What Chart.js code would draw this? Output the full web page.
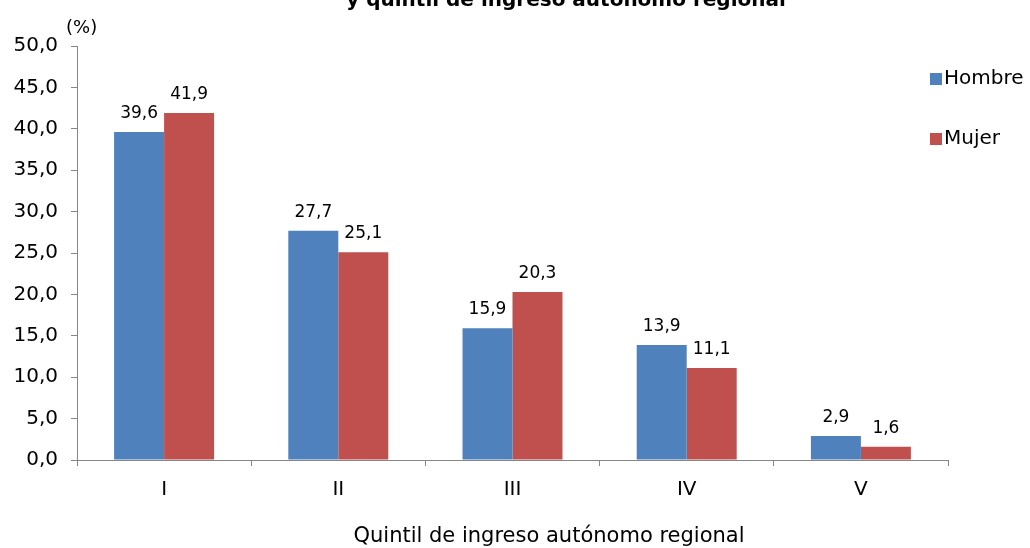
<!DOCTYPE html>
<html><head><meta charset="utf-8">
<script src="https://cdn.jsdelivr.net/npm/chart.js@4"></script>
<style>html,body{margin:0;padding:0;background:#fff}#w{width:1030px;height:548px}</style>
</head><body><div id="w"><canvas id="c" width="1030" height="548"></canvas></div>
<script>
const categories = ["I","II","III","IV","V"];
const hombre = [39.6, 27.7, 15.9, 13.9, 2.9];
const mujer = [41.9, 25.1, 20.3, 11.1, 1.6];
const seriesNames = ["Hombre","Mujer"];
const yTicks = [0,5,10,15,20,25,30,35,40,45,50];
const titleText = "y quintil de ingreso autónomo regional";
const xTitle = "Quintil de ingreso autónomo regional";
const unitText = "(%)";
const FONT = "'DejaVu Sans', Verdana, sans-serif";
const fmt = v => v.toFixed(1).replace('.', ',');

const extras = {
  id: 'extras',
  afterDatasetsDraw(chart) {
    const ctx = chart.ctx;
    ctx.save();
    ctx.fillStyle = '#000';
    ctx.font = '17px ' + FONT;
    ctx.textAlign = 'center';
    ctx.textBaseline = 'alphabetic';
    chart.data.datasets.forEach((ds, i) => {
      chart.getDatasetMeta(i).data.forEach((el, j) => {
        ctx.fillText(fmt(ds.data[j]), el.x, el.y - 14);
      });
    });
    // title (clipped at top)
    ctx.font = 'bold 20px ' + FONT;
    ctx.fillText(titleText, 566, 6);
    // x axis title
    ctx.font = '21px ' + FONT;
    ctx.textBaseline = 'middle';
    ctx.fillText(xTitle, 549, 537);
    // unit
    ctx.font = '18px ' + FONT;
    ctx.textAlign = 'left';
    ctx.textBaseline = 'alphabetic';
    ctx.fillText(unitText, 66, 33);
    // legend
    ctx.font = '20px ' + FONT;
    ctx.textBaseline = 'middle';
    const leg = [[seriesNames[0], '#4F81BD', 79], [seriesNames[1], '#C0504D', 139]];
    leg.forEach(([t, c, y]) => {
      ctx.fillStyle = c;
      ctx.fillRect(930, y - 6, 12, 12);
      ctx.fillStyle = '#000';
      ctx.fillText(t, 944, y);
    });
    ctx.restore();
  }
};

new Chart(document.getElementById('c'), {
  type: 'bar',
  data: {
    labels: categories,
    datasets: [
      { label: seriesNames[0], data: hombre, backgroundColor: '#4F81BD' },
      { label: seriesNames[1], data: mujer, backgroundColor: '#C0504D' }
    ]
  },
  options: {
    responsive: false,
    animation: false,
    devicePixelRatio: 1,
    layout: { padding: { left: 0, right: 82, top: 46, bottom: 0 } },
    datasets: { bar: { categoryPercentage: 0.574, barPercentage: 1.0 } },
    plugins: { legend: { display: false }, tooltip: { enabled: false } },
    scales: {
      x: {
        afterFit: s => { s.height = 88; },
        grid: { offset: true, drawOnChartArea: false, tickLength: 6, color: '#868686' },
        border: { color: '#868686', width: 1 },
        ticks: { color: '#000', font: { family: FONT, size: 20 }, padding: 12 },
        title: { display: false }
      },
      y: {
        min: 0, max: 50,
        afterFit: s => { s.width = 77; },
        afterBuildTicks: s => { s.ticks = yTicks.map(v => ({ value: v })); },
        grid: { drawOnChartArea: false, tickLength: 6, color: '#868686' },
        border: { color: '#868686', width: 1 },
        ticks: { color: '#000', font: { family: FONT, size: 20 }, padding: 13, callback: v => fmt(v) }
      }
    }
  },
  plugins: [extras]
});
</script>
</body></html>
